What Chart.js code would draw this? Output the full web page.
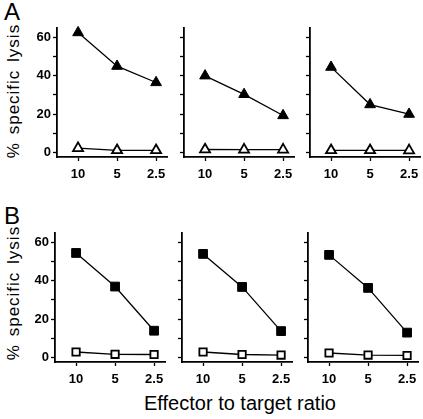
<!DOCTYPE html>
<html>
<head>
<meta charset="utf-8">
<script src="https://cdn.jsdelivr.net/npm/chart.js@4"></script>
<style>
  body { margin: 0; background: #fff; }
  #wrap { position: relative; width: 423px; height: 419px; overflow: hidden; background: #fff; }
  canvas { position: absolute; }
  .lbl { position: absolute; color: #000; font-family: "Liberation Sans", Arial, sans-serif; white-space: nowrap; }
  .ytitle { font-size: 17px; letter-spacing: 1px; word-spacing: 2px; transform: translate(-50%, -50%) rotate(-90deg); }
</style>
</head>
<body>
<div id="wrap">
  <div class="lbl" style="left:4px;top:-2px;font-size:24px;">A</div>
  <div class="lbl" style="left:4px;top:202px;font-size:24px;">B</div>
  <div class="lbl ytitle" style="left:14px;top:91px;">% specific lysis</div>
  <div class="lbl ytitle" style="left:14px;top:293px;">% specific lysis</div>
  <div class="lbl" style="left:240px;top:403px;font-size:20px;transform:translate(-50%,-50%);">Effector to target ratio</div>
</div>
<script>
// x categories (effector : target)
const ratios = ["10", "5", "2.5"];
const yTicks = [0, 10, 20, 30, 40, 50, 60];

// panel A, triangles
const aFilled = [[62.5, 45, 36.5], [40, 30.3, 19.3], [44.5, 25, 20]];
const aOpen = [[2.3, 1.2, 1.2], [1.6, 1.5, 1.5], [1.2, 1.2, 1.1]];
// panel B, squares
const bFilled = [[54.5, 37, 14], [54, 36.8, 13.8], [53.5, 36.3, 13]];
const bOpen = [[2.9, 1.7, 1.6], [2.9, 1.6, 1.3], [2.4, 1.3, 1.1]];

const wrap = document.getElementById("wrap");

function pts(arr) {
  return arr.map((v, i) => ({ x: i, y: v }));
}

function makePanel(axisX, areaTop, filled, open, shape, showLabels) {
  const c = document.createElement("canvas");
  c.width = 160;
  c.height = 172;
  c.style.left = (axisX - 40) + "px";
  c.style.top = (areaTop - 6) + "px";
  wrap.appendChild(c);

  new Chart(c, {
    type: "line",
    data: {
      datasets: [
        {
          data: pts(filled),
          borderColor: "#000",
          borderWidth: 1.3,
          pointStyle: shape,
          pointRadius: 6.2,
          pointBackgroundColor: "#000",
          pointBorderColor: "#000",
          pointBorderWidth: 1,
          clip: false
        },
        {
          data: pts(open),
          borderColor: "#000",
          borderWidth: 1.3,
          pointStyle: shape,
          pointRadius: shape == "rect" ? 5.2 : 5.8,
          pointBackgroundColor: "#fff",
          pointBorderColor: "#000",
          pointBorderWidth: 1.8,
          clip: false
        }
      ]
    },
    options: {
      responsive: false,
      animation: false,
      devicePixelRatio: 1,
      layout: { padding: { top: 6, right: 10, left: 0, bottom: 0 } },
      plugins: { legend: { display: false }, tooltip: { enabled: false } },
      scales: {
        x: {
          type: "linear",
          min: -0.54,
          max: 2.28,
          afterBuildTicks: (s) => { s.ticks = ratios.map((r, i) => ({ value: i })); },
          afterFit: (s) => { s.height = 33; },
          border: { display: true, color: "#000", width: 1.8 },
          grid: { display: true, drawOnChartArea: false, drawTicks: true, tickLength: 4, tickColor: "#000", tickWidth: 1.3 },
          ticks: {
            color: "#000",
            font: { family: "'Liberation Sans', Arial, sans-serif", size: 13, weight: "bold" },
            padding: 6,
            maxRotation: 0,
            callback: (v) => ratios[v]
          }
        },
        y: {
          min: -2.3,
          max: 65,
          afterBuildTicks: (s) => { s.ticks = yTicks.map((v) => ({ value: v })); },
          afterFit: (s) => { s.width = 40; },
          border: { display: true, color: "#000", width: 1.8 },
          grid: { display: true, drawOnChartArea: false, drawTicks: true, tickLength: 4, tickColor: "#000", tickWidth: 1.3 },
          ticks: {
            color: "#000",
            font: { family: "'Liberation Sans', Arial, sans-serif", size: 13, weight: "bold" },
            padding: 2,
            callback: (v) => (showLabels && v % 20 == 0 ? String(v) : "")
          }
        }
      }
    }
  });
}

const axA = [57, 184, 310];
const axB = [55, 182, 308];
for (let i = 0; i < 3; i++) {
  makePanel(axA[i], 24, aFilled[i], aOpen[i], "triangle", i == 0);
}
for (let i = 0; i < 3; i++) {
  makePanel(axB[i], 229, bFilled[i], bOpen[i], "rect", i == 0);
}
</script>
</body>
</html>
